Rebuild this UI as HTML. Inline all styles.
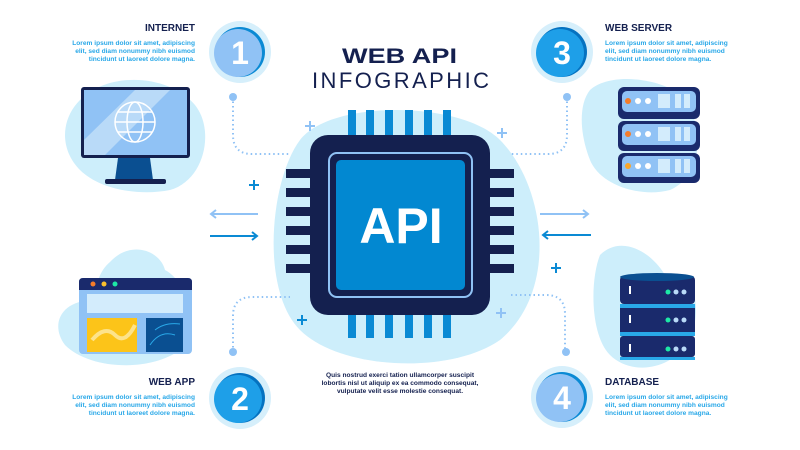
<!DOCTYPE html>
<html><head><meta charset="utf-8"><style>
html,body{margin:0;padding:0;background:#fff;width:800px;height:450px;overflow:hidden}
svg{display:block;font-family:"Liberation Sans",sans-serif}
</style></head><body>
<svg width="800" height="450" viewBox="0 0 800 450">
<!-- blobs -->
<path d="M300 140 C330 100 460 100 500 140 C545 185 560 290 500 340 C450 375 340 370 300 330 C260 290 270 180 300 140Z" fill="#cdeefb"/>
<path d="M80 100 C110 70 170 75 195 105 C215 130 205 180 170 190 C140 196 100 190 80 170 C60 150 60 120 80 100Z" fill="#cdeefb"/>
<path d="M110 262 C130 240 160 250 165 270 C185 280 200 320 180 350 C150 372 90 370 65 345 C50 325 60 300 95 300 C95 285 100 270 110 262Z" fill="#cdeefb"/>
<path d="M590 90 C610 72 660 78 680 95 C705 120 705 175 670 190 C640 198 600 185 590 160 C580 135 578 105 590 90Z" fill="#cdeefb"/>
<path d="M600 255 C620 235 650 250 665 275 C690 270 705 300 690 340 C670 372 630 375 610 355 C590 335 590 280 600 255Z" fill="#cdeefb"/>
<!-- title -->
<text x="342" y="63" font-size="21" font-weight="bold" fill="#14204f" textLength="115" lengthAdjust="spacingAndGlyphs">WEB API</text>
<text x="312" y="88" font-size="22" fill="#14204f" textLength="177" lengthAdjust="spacing">INFOGRAPHIC</text>
<!-- chip pins -->
<g fill="#0a8ad4">
<rect x="348" y="110" width="8" height="27"/><rect x="366" y="110" width="8" height="27"/><rect x="385" y="110" width="8" height="27"/><rect x="405" y="110" width="8" height="27"/><rect x="424" y="110" width="8" height="27"/><rect x="443" y="110" width="8" height="27"/>
<rect x="348" y="312" width="8" height="26"/><rect x="366" y="312" width="8" height="26"/><rect x="385" y="312" width="8" height="26"/><rect x="405" y="312" width="8" height="26"/><rect x="424" y="312" width="8" height="26"/><rect x="443" y="312" width="8" height="26"/>
</g>
<g fill="#14204f">
<rect x="286" y="169" width="28" height="9"/><rect x="286" y="188" width="28" height="9"/><rect x="286" y="207" width="28" height="9"/><rect x="286" y="226" width="28" height="9"/><rect x="286" y="245" width="28" height="9"/><rect x="286" y="264" width="28" height="9"/>
<rect x="486" y="169" width="28" height="9"/><rect x="486" y="188" width="28" height="9"/><rect x="486" y="207" width="28" height="9"/><rect x="486" y="226" width="28" height="9"/><rect x="486" y="245" width="28" height="9"/><rect x="486" y="264" width="28" height="9"/>
</g>
<rect x="310" y="135" width="180" height="180" rx="18" fill="#14204f"/>
<rect x="329" y="153" width="143" height="144" rx="8" fill="none" stroke="#90c2f5" stroke-width="2"/>
<rect x="336" y="160" width="129" height="130" rx="5" fill="#0288d1"/>
<text x="401" y="243" text-anchor="middle" font-size="50" font-weight="bold" fill="#fff">API</text>
<!-- connectors -->
<g fill="none" stroke="#90c2f5" stroke-width="2" stroke-dasharray="1.5 3">
<path d="M233 97 V135 Q233 154 252 154 H290"/>
<path d="M567 97 V135 Q567 154 548 154 H510"/>
<path d="M233 352 V316 Q233 297 252 297 H290"/>
<path d="M511 295 H546 Q565 295 565 314 V352"/>
</g>
<g fill="#90c2f5"><circle cx="233" cy="97" r="4"/><circle cx="567" cy="97" r="4"/><circle cx="233" cy="352" r="4"/><circle cx="566" cy="352" r="4"/></g>
<!-- arrows -->
<g stroke="#90c2f5" stroke-width="2" fill="none"><path d="M258 214 H211 M216 210 L211 214 L216 218"/><path d="M540 214 H588 M583 210 L588 214 L583 218"/></g>
<g stroke="#0a8ad4" stroke-width="2" fill="none"><path d="M210 236 H257 M252 232 L257 236 L252 240"/><path d="M591 235 H543 M548 231 L543 235 L548 239"/></g>
<!-- plus -->
<g stroke-width="2"><path d="M310 121v10M305 126h10" stroke="#90c2f5"/><path d="M254 180v10M249 185h10" stroke="#0a8ad4"/><path d="M502 128v10M497 133h10" stroke="#90c2f5"/><path d="M556 263v10M551 268h10" stroke="#0a8ad4"/><path d="M302 315v10M297 320h10" stroke="#0a8ad4"/><path d="M501 308v10M496 313h10" stroke="#90c2f5"/></g>
<!-- number circles -->
<g font-weight="bold" font-size="32" text-anchor="middle" fill="#fff">
<circle cx="240" cy="52" r="31" fill="#d6effb"/><circle cx="240" cy="52" r="25" fill="#0a8ad4"/><circle cx="238" cy="53" r="24" fill="#90c2f5"/><text x="240" y="64">1</text>
<circle cx="562" cy="52" r="31" fill="#d6effb"/><circle cx="562" cy="52" r="25" fill="#0572c0"/><circle cx="560" cy="53" r="24" fill="#1e9fe8"/><text x="562" y="64">3</text>
<circle cx="240" cy="398" r="31" fill="#d6effb"/><circle cx="240" cy="398" r="25" fill="#0572c0"/><circle cx="238" cy="399" r="24" fill="#1e9fe8"/><text x="240" y="410">2</text>
<circle cx="562" cy="397" r="31" fill="#d6effb"/><circle cx="562" cy="397" r="25" fill="#0a8ad4"/><circle cx="560" cy="398" r="24" fill="#90c2f5"/><text x="562" y="409">4</text>
</g>
<!-- labels -->
<g font-weight="bold">
<text x="195" y="31" text-anchor="end" font-size="10" fill="#14204f">INTERNET</text>
<text x="605" y="31" font-size="10" fill="#14204f">WEB SERVER</text>
<text x="195" y="385" text-anchor="end" font-size="10" fill="#14204f">WEB APP</text>
<text x="605" y="385" font-size="10" fill="#14204f">DATABASE</text>
<g font-size="6.6" fill="#29a8e8">
<text x="195" y="45" text-anchor="end">Lorem ipsum dolor sit amet, adipiscing</text><text x="195" y="53" text-anchor="end">elit, sed diam nonummy nibh euismod</text><text x="195" y="61" text-anchor="end">tincidunt ut laoreet dolore magna.</text>
<text x="605" y="45">Lorem ipsum dolor sit amet, adipiscing</text><text x="605" y="53">elit, sed diam nonummy nibh euismod</text><text x="605" y="61">tincidunt ut laoreet dolore magna.</text>
<text x="195" y="399" text-anchor="end">Lorem ipsum dolor sit amet, adipiscing</text><text x="195" y="407" text-anchor="end">elit, sed diam nonummy nibh euismod</text><text x="195" y="415" text-anchor="end">tincidunt ut laoreet dolore magna.</text>
<text x="605" y="399">Lorem ipsum dolor sit amet, adipiscing</text><text x="605" y="407">elit, sed diam nonummy nibh euismod</text><text x="605" y="415">tincidunt ut laoreet dolore magna.</text>
</g>
<g font-size="6.6" fill="#14204f" text-anchor="middle">
<text x="400" y="377">Quis nostrud exerci tation ullamcorper suscipit</text><text x="400" y="385">lobortis nisl ut aliquip ex ea commodo consequat,</text><text x="400" y="393">vulputate velit esse molestie consequat.</text>
</g>
</g>
<!-- monitor -->
<rect x="81" y="87" width="109" height="71" rx="3" fill="#14204f"/>
<rect x="84" y="90" width="103" height="65" fill="#90c2f5"/>
<path d="M84 155 L84 140 L135 90 L170 90 L105 155Z" fill="#b9daf8"/>
<path d="M118 158 H150 L153 180 H115Z" fill="#0a4f91"/>
<rect x="105" y="179" width="61" height="5" rx="2" fill="#14204f"/>
<g fill="none" stroke="#fff" stroke-width="1.5"><circle cx="135" cy="122" r="20"/><ellipse cx="135" cy="122" rx="8" ry="20"/><path d="M115 122H155M118 112H152M118 132H152"/></g>
<!-- web app -->
<rect x="79" y="278" width="113" height="76" rx="4" fill="#90c2f5"/>
<path d="M79 282 Q79 278 83 278 H188 Q192 278 192 282 V290 H79Z" fill="#1a2a6c"/>
<circle cx="93" cy="284" r="2.5" fill="#f57c2a"/><circle cx="104" cy="284" r="2.5" fill="#fbc02d"/><circle cx="115" cy="284" r="2.5" fill="#1de9a6"/>
<rect x="87" y="294" width="96" height="19" fill="#d3ecfc"/>
<rect x="87" y="318" width="50" height="34" fill="#fcc419"/>
<rect x="146" y="318" width="37" height="34" fill="#0a4f91"/>
<path d="M92 340 Q105 325 115 335 T135 325" stroke="#fde38a" stroke-width="4" fill="none"/>
<path d="M150 345 Q160 330 175 335 M155 330 Q165 322 180 324" stroke="#29a8e8" fill="none"/>
<!-- server -->
<g>
<rect x="618" y="87" width="82" height="32" rx="6" fill="#1a2a6c"/><rect x="622" y="91" width="74" height="21" rx="5" fill="#90c2f5"/>
<rect x="618" y="121" width="82" height="30" rx="6" fill="#1a2a6c"/><rect x="622" y="124" width="74" height="21" rx="5" fill="#90c2f5"/>
<rect x="618" y="153" width="82" height="30" rx="6" fill="#1a2a6c"/><rect x="622" y="156" width="74" height="21" rx="5" fill="#90c2f5"/>
<g fill="#fff"><circle cx="638" cy="101" r="3"/><circle cx="648" cy="101" r="3"/><circle cx="638" cy="134" r="3"/><circle cx="648" cy="134" r="3"/><circle cx="638" cy="166" r="3"/><circle cx="648" cy="166" r="3"/></g>
<circle cx="628" cy="101" r="3" fill="#f57c2a"/><circle cx="628" cy="134" r="3" fill="#f57c2a"/><circle cx="628" cy="166" r="3" fill="#fba62a"/>
<g fill="#d3ecfc"><rect x="658" y="94" width="12" height="14"/><rect x="675" y="94" width="6" height="14"/><rect x="684" y="94" width="6" height="14"/><rect x="658" y="127" width="12" height="14"/><rect x="675" y="127" width="6" height="14"/><rect x="684" y="127" width="6" height="14"/><rect x="658" y="159" width="12" height="14"/><rect x="675" y="159" width="6" height="14"/><rect x="684" y="159" width="6" height="14"/></g>
</g>
<!-- database -->
<g>
<rect x="620" y="276" width="75" height="28" rx="4" fill="#1a2a6c"/>
<ellipse cx="657" cy="277" rx="37" ry="4" fill="#0a4f91"/>
<rect x="620" y="304" width="75" height="4" fill="#29a8e8"/>
<rect x="620" y="308" width="75" height="24" fill="#1a2a6c"/>
<rect x="620" y="332" width="75" height="4" fill="#29a8e8"/>
<rect x="620" y="336" width="75" height="21" rx="3" fill="#1a2a6c"/>
<rect x="620" y="357" width="75" height="3" fill="#29a8e8"/>
<g fill="#fff"><rect x="629" y="286" width="2" height="8"/><rect x="629" y="315" width="2" height="8"/><rect x="629" y="344" width="2" height="8"/></g>
<g fill="#1de9a6"><circle cx="668" cy="292" r="2.5"/><circle cx="668" cy="320" r="2.5"/><circle cx="668" cy="349" r="2.5"/></g>
<g fill="#b9daf8"><circle cx="676" cy="292" r="2.5"/><circle cx="684" cy="292" r="2.5"/><circle cx="676" cy="320" r="2.5"/><circle cx="684" cy="320" r="2.5"/><circle cx="676" cy="349" r="2.5"/><circle cx="684" cy="349" r="2.5"/></g>
</g>
</svg>
</body></html>
